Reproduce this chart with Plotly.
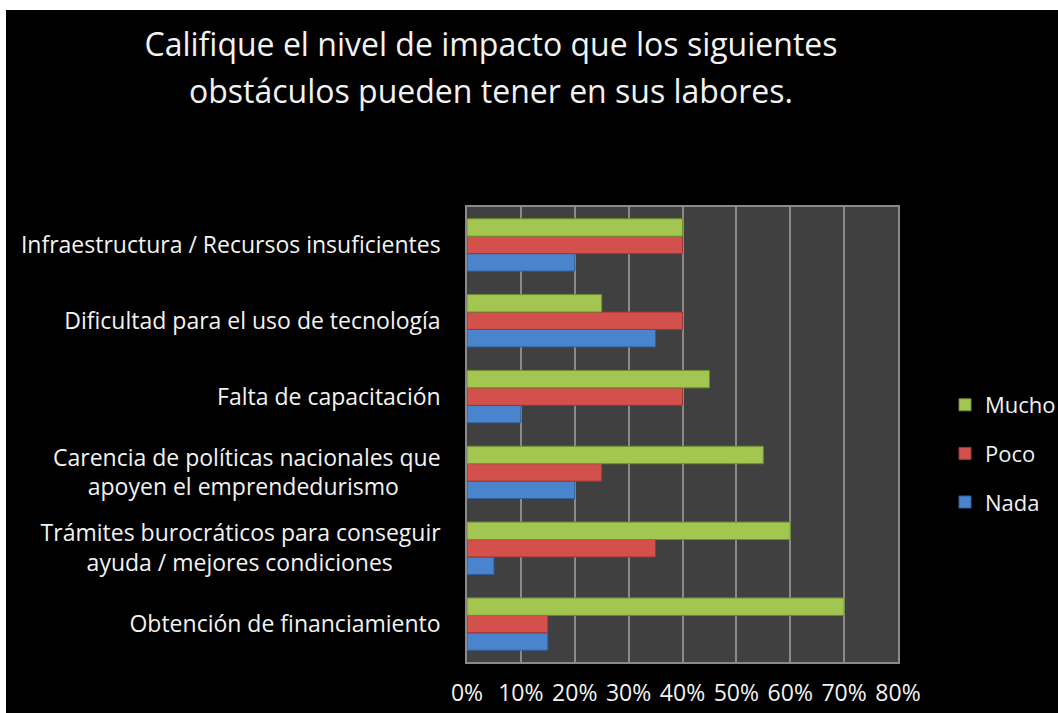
import plotly.graph_objects as go

categories = [
    "Obtención de financiamiento",
    "Trámites burocráticos para conseguir<br>ayuda / mejores condiciones" + "\u00a0" * 8,
    "Carencia de políticas nacionales que<br>apoyen el emprendedurismo" + "\u00a0" * 7,
    "Falta de capacitación",
    "Dificultad para el uso de tecnología",
    "Infraestructura / Recursos insuficientes",
]
nada = [15, 5, 20, 10, 35, 20]
poco = [15, 35, 25, 40, 40, 40]
mucho = [70, 60, 55, 45, 25, 40]
x_ticks = [0, 10, 20, 30, 40, 50, 60, 70, 80]
x_tick_labels = [f"{v}%" for v in x_ticks]

FONT = "'Open Sans', Lato, sans-serif"
TXT = "#f2f2f2"

fig = go.Figure()
fig.add_trace(go.Bar(y=categories, x=nada, name="Nada", orientation="h",
                     marker=dict(color="#4a84cc", line=dict(color="#2f5f9e", width=1)),
                     legendgroup="a", legendrank=3))
fig.add_trace(go.Bar(y=categories, x=poco, name="Poco", orientation="h",
                     marker=dict(color="#d4504c", line=dict(color="#9e3532", width=1)),
                     legendgroup="b", legendrank=2))
fig.add_trace(go.Bar(y=categories, x=mucho, name="Mucho", orientation="h",
                     marker=dict(color="#a3c651", line=dict(color="#6f8c33", width=1)),
                     legendgroup="c", legendrank=1))

W, H = 1058, 713
L, R, T, B = 467, W - 898, 207, H - 662
pw, ph = W - L - R, H - T - B

def px(x):
    return (x - L) / pw

def py(y):
    return (H - B - y) / ph

fig.update_layout(
    width=W, height=H,
    autosize=False,
    margin=dict(l=L, r=R, t=T, b=B, pad=0, autoexpand=False),
    paper_bgcolor="black",
    plot_bgcolor="#404040",
    barmode="group",
    bargap=0.31,
    bargroupgap=0,
    font=dict(family=FONT, color=TXT, size=23),
    title=dict(text="Califique el nivel de impacto que los siguientes",
               x=491 / W, xanchor="center", y=1 - 45 / H, yanchor="middle",
               font=dict(size=32, color=TXT, family=FONT)),
    legend=dict(xref="container", yref="container",
                x=945 / W, xanchor="left", y=1 - 384 / H, yanchor="top",
                traceorder="grouped", tracegroupgap=17,
                font=dict(size=22, color=TXT), bgcolor="rgba(0,0,0,0)",
                itemwidth=30),
    xaxis=dict(range=[0, 80], tickvals=x_ticks, ticktext=x_tick_labels,
               showgrid=True, gridcolor="#8a8a8a", gridwidth=1.5,
               showline=True, linecolor="#8a8a8a", linewidth=1.5, mirror=True,
               zeroline=False, ticks="", ticklabelstandoff=10, automargin=False,
               tickfont=dict(size=23, color=TXT)),
    yaxis=dict(showline=True, linecolor="#8a8a8a", linewidth=1.5, mirror=True,
               showgrid=False, ticks="", ticklabelstandoff=20, automargin=False,
               tickfont=dict(size=23, color=TXT)),
    annotations=[dict(text="obstáculos pueden tener en sus labores.",
                      xref="paper", yref="paper", x=px(491), y=py(90),
                      xanchor="center", yanchor="middle", showarrow=False,
                      font=dict(size=32, color=TXT, family=FONT))],
    shapes=[
        dict(type="rect", xref="paper", yref="paper", layer="above",
             x0=px(-5), x1=px(W + 5), y0=py(10), y1=py(-5),
             fillcolor="white", line=dict(width=0)),
        dict(type="rect", xref="paper", yref="paper", layer="above",
             x0=px(-5), x1=px(6), y0=py(H + 5), y1=py(-5),
             fillcolor="white", line=dict(width=0)),
    ],
)

fig.write_html("out.html", config={"displayModeBar": False},
               post_script="document.body.style.margin='0';document.body.style.overflow='hidden';")
